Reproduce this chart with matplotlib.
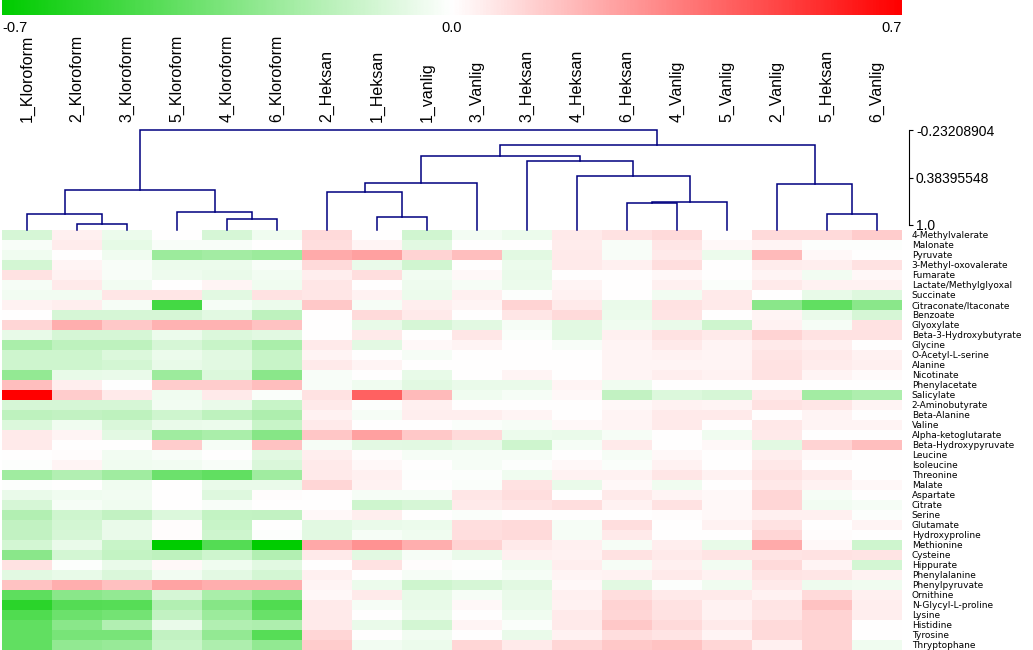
import matplotlib
matplotlib.use("Agg")
import matplotlib.pyplot as plt
import numpy as np
from matplotlib.colors import LinearSegmentedColormap
from matplotlib.transforms import blended_transform_factory

plt.rcParams['font.family'] = ['Liberation Sans', 'DejaVu Sans']

samples = ["1_Kloroform", "2_Kloroform", "3_Kloroform", "5_Kloroform", "4_Kloroform", "6_Kloroform",
           "2_Heksan", "1_Heksan", "1_vanlig", "3_Vanlig", "3_Heksan", "4_Heksan", "6_Heksan",
           "4_Vanlig", "5_Vanlig", "2_Vanlig", "5_Heksan", "6_Vanlig"]

metabolites = ["4-Methylvalerate", "Malonate", "Pyruvate", "3-Methyl-oxovalerate", "Fumarate",
               "Lactate/Methylglyoxal", "Succinate", "Citraconate/Itaconate", "Benzoate", "Glyoxylate",
               "Beta-3-Hydroxybutyrate", "Glycine", "O-Acetyl-L-serine", "Alanine", "Nicotinate",
               "Phenylacetate", "Salicylate", "2-Aminobutyrate", "Beta-Alanine", "Valine",
               "Alpha-ketoglutarate", "Beta-Hydroxypyruvate", "Leucine", "Isoleucine", "Threonine",
               "Malate", "Aspartate", "Citrate", "Serine", "Glutamate", "Hydroxyproline", "Methionine",
               "Cysteine", "Hippurate", "Phenylalanine", "Phenylpyruvate", "Ornithine",
               "N-Glycyl-L-proline", "Lysine", "Histidine", "Tyrosine", "Thryptophane"]

values = [
    [-0.11, 0.04, -0.05, 0.0, -0.11, -0.04, 0.10, 0.0, -0.13, -0.03, -0.05, 0.06, 0.08, 0.10, 0.0, 0.10, 0.10, 0.14],
    [-0.02, 0.05, -0.07, -0.02, -0.02, 0.0, 0.09, 0.03, -0.08, 0.0, 0.0, 0.05, -0.02, 0.07, 0.02, 0.03, -0.01, -0.01],
    [-0.04, 0.0, -0.04, -0.27, -0.25, -0.27, 0.23, 0.26, 0.12, 0.18, -0.08, 0.06, -0.02, 0.06, -0.05, 0.19, 0.02, 0.0],
    [-0.12, 0.03, -0.02, -0.05, -0.05, -0.02, 0.10, -0.06, -0.13, 0.0, -0.05, 0.06, 0.04, 0.09, 0.0, 0.05, 0.045, 0.08],
    [0.08, 0.035, -0.02, -0.045, -0.06, -0.035, 0.045, 0.09, -0.035, 0.02, -0.06, 0.0, 0.0, 0.02, 0.0, 0.03, -0.035, 0.02],
    [-0.025, 0.055, -0.035, 0.0, 0.03, -0.04, 0.07, 0.0, -0.045, -0.025, -0.05, 0.03, 0.0, 0.04, -0.015, 0.06, 0.035, 0.035],
    [-0.035, -0.035, 0.07, 0.07, -0.08, 0.08, 0.07, 0.035, -0.05, 0.04, -0.01, 0.035, 0.0, -0.035, 0.055, 0.0, -0.065, -0.09],
    [0.035, 0.045, -0.025, -0.51, -0.025, -0.05, 0.15, -0.025, 0.045, 0.03, 0.12, 0.06, -0.06, 0.08, 0.06, -0.32, -0.43, -0.32],
    [0.0, -0.11, -0.11, -0.11, -0.08, -0.18, 0.0, 0.10, 0.055, 0.0, 0.07, 0.10, -0.05, 0.075, 0.0, 0.03, -0.06, -0.11],
    [0.11, 0.22, 0.15, 0.21, 0.21, 0.165, 0.0, -0.065, -0.11, -0.08, -0.025, -0.08, -0.04, -0.06, -0.135, 0.035, -0.025, 0.08],
    [-0.065, -0.11, -0.11, -0.05, -0.095, -0.08, 0.0, 0.06, 0.0, 0.07, -0.015, -0.08, 0.04, 0.08, 0.055, 0.12, 0.08, 0.08],
    [-0.23, -0.18, -0.18, -0.11, -0.15, -0.23, 0.055, -0.075, 0.02, 0.03, 0.0, -0.02, 0.03, 0.055, 0.03, 0.055, 0.04, 0.0],
    [-0.135, -0.135, -0.095, -0.05, -0.08, -0.15, 0.03, 0.0, -0.025, 0.0, 0.0, 0.0, 0.03, 0.035, 0.03, 0.075, 0.055, 0.035],
    [-0.135, -0.135, -0.12, -0.065, -0.08, -0.15, 0.055, 0.03, 0.0, 0.0, 0.0, 0.0, 0.03, 0.03, 0.03, 0.08, 0.05, 0.04],
    [-0.29, -0.065, -0.055, -0.27, -0.095, -0.32, -0.02, 0.0, -0.065, 0.0, 0.03, 0.0, 0.03, 0.045, 0.035, 0.08, 0.03, 0.015],
    [0.18, 0.045, -0.005, 0.14, 0.14, 0.18, -0.02, -0.04, -0.08, -0.06, -0.06, 0.03, -0.04, 0.0, 0.0, 0.0, 0.0, 0.0],
    [0.70, 0.14, 0.06, -0.04, 0.055, -0.015, 0.08, 0.43, 0.19, -0.04, -0.025, 0.02, -0.165, -0.095, -0.11, 0.055, -0.25, -0.22],
    [-0.11, -0.11, -0.11, -0.035, -0.06, -0.15, 0.055, -0.01, 0.04, 0.0, 0.0, 0.0, 0.02, 0.035, 0.03, 0.08, 0.07, 0.03],
    [-0.18, -0.165, -0.18, -0.135, -0.18, -0.22, 0.035, -0.025, 0.045, 0.045, 0.03, 0.0, 0.03, 0.055, 0.055, 0.0, 0.03, 0.0],
    [-0.095, -0.04, -0.10, -0.06, -0.05, -0.15, 0.06, 0.0, 0.0, -0.015, -0.025, 0.02, 0.03, 0.055, 0.0, 0.065, 0.03, 0.03],
    [0.055, 0.03, -0.075, -0.26, -0.23, -0.33, 0.155, 0.26, 0.15, 0.10, -0.05, -0.06, -0.025, 0.0, -0.04, 0.055, 0.0, 0.0],
    [0.055, 0.0, 0.0, 0.14, -0.025, 0.165, -0.025, -0.075, -0.08, -0.055, -0.135, -0.025, 0.055, 0.0, 0.02, -0.08, 0.12, 0.18],
    [0.0, 0.01, -0.035, -0.02, 0.0, -0.08, 0.045, 0.01, -0.025, -0.025, -0.025, 0.0, -0.025, 0.02, 0.0, 0.045, 0.02, 0.0],
    [-0.01, 0.03, -0.04, -0.035, -0.02, -0.10, 0.06, 0.02, 0.0, -0.025, -0.01, 0.02, -0.015, 0.035, 0.0, 0.065, 0.0, 0.0],
    [-0.26, -0.21, -0.26, -0.40, -0.43, -0.26, 0.055, 0.04, -0.01, -0.01, -0.04, 0.035, 0.035, 0.07, 0.035, 0.08, 0.055, 0.0],
    [-0.01, 0.0, -0.04, 0.0, -0.06, -0.06, 0.11, 0.035, 0.0, -0.015, 0.08, -0.055, 0.02, -0.04, 0.0, 0.065, 0.035, 0.02],
    [-0.06, -0.04, -0.035, 0.0, -0.09, 0.01, 0.0, -0.025, -0.025, 0.07, 0.09, 0.0, 0.055, 0.03, 0.02, 0.11, -0.025, 0.0],
    [-0.11, -0.025, -0.04, 0.0, -0.02, 0.0, 0.0, -0.135, -0.11, 0.055, 0.075, 0.09, 0.035, 0.08, 0.02, 0.11, -0.035, -0.025],
    [-0.21, -0.135, -0.165, -0.095, -0.16, -0.165, 0.02, 0.045, 0.0, -0.015, 0.0, 0.0, 0.0, 0.01, 0.02, 0.04, 0.04, -0.01],
    [-0.165, -0.12, -0.055, 0.01, -0.15, 0.0, -0.08, -0.055, -0.05, 0.09, 0.10, -0.025, 0.09, 0.0, 0.035, 0.08, 0.0, 0.03],
    [-0.165, -0.11, -0.055, 0.01, -0.135, -0.01, -0.08, -0.025, -0.04, 0.09, 0.10, -0.025, 0.06, 0.0, 0.0, 0.11, 0.01, 0.0],
    [-0.12, -0.055, -0.15, -0.70, -0.47, -0.70, 0.24, 0.30, 0.22, 0.12, 0.055, 0.04, -0.025, 0.045, -0.065, 0.23, 0.02, -0.135],
    [-0.32, -0.12, -0.16, -0.18, -0.135, -0.21, 0.055, -0.08, -0.025, -0.055, 0.04, 0.035, 0.08, 0.06, 0.075, 0.075, 0.08, 0.075],
    [0.08, -0.01, -0.06, 0.02, -0.04, -0.08, 0.0, 0.08, 0.01, 0.0, -0.04, 0.045, -0.025, 0.04, -0.035, 0.10, 0.03, -0.12],
    [-0.08, -0.065, -0.10, -0.035, -0.075, -0.12, 0.04, 0.0, -0.025, -0.01, -0.025, 0.03, 0.035, 0.055, 0.035, 0.075, 0.07, 0.035],
    [0.165, 0.22, 0.17, 0.25, 0.22, 0.22, 0.03, -0.05, -0.135, -0.11, -0.08, 0.02, -0.08, -0.01, -0.04, 0.06, -0.045, -0.04],
    [-0.44, -0.32, -0.29, -0.11, -0.23, -0.30, 0.02, 0.06, -0.065, -0.025, -0.055, 0.04, 0.09, 0.06, 0.06, 0.035, 0.10, 0.04],
    [-0.58, -0.47, -0.46, -0.21, -0.33, -0.48, 0.055, -0.025, -0.065, 0.02, -0.055, 0.035, 0.12, 0.08, 0.035, 0.075, 0.165, 0.045],
    [-0.48, -0.40, -0.38, -0.165, -0.27, -0.41, 0.055, 0.0, -0.05, 0.0, -0.04, 0.055, 0.11, 0.08, 0.035, 0.07, 0.12, 0.045],
    [-0.43, -0.32, -0.21, -0.06, -0.21, -0.22, 0.055, -0.06, -0.12, 0.03, -0.015, 0.055, 0.15, 0.10, 0.055, 0.10, 0.12, 0.0],
    [-0.43, -0.37, -0.37, -0.165, -0.29, -0.46, 0.11, 0.0, -0.035, 0.0, -0.06, 0.035, 0.09, 0.075, 0.03, 0.10, 0.12, 0.0],
    [-0.43, -0.30, -0.28, -0.15, -0.22, -0.30, 0.14, -0.035, -0.05, 0.11, 0.055, 0.11, 0.15, 0.165, 0.11, 0.04, 0.12, -0.04],
]

# dendrogram merges (node ids >= 18 refer to earlier merges) and their heights
merge_pairs = [(1, 2), (4, 5), (0, 18), (3, 19), (20, 21), (7, 8), (6, 23), (24, 9),
               (12, 13), (26, 14), (11, 27), (10, 28), (25, 29), (16, 17), (15, 31),
               (30, 32), (22, 33)]
merge_heights = [0.99, 0.926, 0.861, 0.835, 0.548, 0.896, 0.575, 0.454,
                 0.718, 0.705, 0.363, 0.167, 0.106, 0.861, 0.471, -0.041, -0.23208904]

scale_ticks = [-0.23208904, 0.38395548, 1.0]
scale_labels = ["-0.23208904", "0.38395548", "1.0"]
cbar_ticks = [-0.7, 0.0, 0.7]
cbar_labels = ["-0.7", "0.0", "0.7"]

W, H = 1033, 650
fig = plt.figure(figsize=(W / 100, H / 100), dpi=100)
fig.patch.set_facecolor("white")


def px_axes(x0, y0, x1, y1):
    return fig.add_axes([x0 / W, 1 - y1 / H, (x1 - x0) / W, (y1 - y0) / H])


cmap = LinearSegmentedColormap.from_list("gwr", ["#00CC00", "#FFFFFF", "#FF0000"])
vmin, vmax = -0.7, 0.7
n_cols = len(samples)
n_rows = len(metabolites)

# heatmap
ax = px_axes(2, 230, 902, 650)
ax.imshow(np.array(values), cmap=cmap, vmin=vmin, vmax=vmax, aspect="auto",
          interpolation="nearest", extent=(0, n_cols, n_rows, 0))
ax.set_xlim(0, n_cols)
ax.set_ylim(n_rows, 0)
for s in ax.spines.values():
    s.set_visible(False)
ax.set_xticks([])
ax.yaxis.tick_right()
ax.set_yticks(np.arange(n_rows) + 0.5)
ax.set_yticklabels(metabolites, fontsize=6.5, family="DejaVu Sans")
ax.tick_params(axis="y", length=0, pad=7)

# column labels
tr = blended_transform_factory(ax.transData, fig.transFigure)
for i, name in enumerate(samples):
    fig.text(i + 0.5, 1 - 122 / H, name, transform=tr, rotation=90,
             ha="center", va="bottom", fontsize=11.5)

# colorbar
cax = px_axes(2, 0, 902, 15)
grad = np.linspace(vmin, vmax, 600)[None, :]
cax.imshow(grad, cmap=cmap, vmin=vmin, vmax=vmax, aspect="auto", extent=(vmin, vmax, 0, 1))
cax.set_axis_off()
for v, lab, ha in zip(cbar_ticks, cbar_labels, ["left", "center", "right"]):
    cax.annotate(lab, xy=(v, 0), xycoords=("data", "axes fraction"), xytext=(0, -13),
                 textcoords="offset pixels", ha=ha, va="center", fontsize=10.5)

# dendrogram
ylim_d = (1.0651, -0.262)
axd = px_axes(2, 128, 902, 230)
axd.set_xlim(0, n_cols)
axd.set_ylim(*ylim_d)
axd.set_axis_off()
node_x = list(np.arange(n_cols) + 0.5)
node_h = [ylim_d[0]] * n_cols
for (a, b), h in zip(merge_pairs, merge_heights):
    xa, xb = node_x[a], node_x[b]
    axd.plot([xa, xa, xb, xb], [node_h[a], h, h, node_h[b]], color="#000080",
             lw=1.1, solid_joinstyle="miter", clip_on=False)
    node_x.append((xa + xb) / 2)
    node_h.append(h)

# scale of the dendrogram
sax = px_axes(908, 128, 909, 230)
sax.set_ylim(*ylim_d)
sax.set_xticks([])
for k in ["left", "top", "bottom"]:
    sax.spines[k].set_visible(False)
sax.spines["right"].set_bounds(scale_ticks[0], scale_ticks[-1])
sax.spines["right"].set_linewidth(0.8)
sax.yaxis.tick_right()
sax.set_yticks(scale_ticks)
sax.set_yticklabels(scale_labels, fontsize=10)
sax.tick_params(axis="y", direction="out", length=3, width=0.8, pad=2)
sax.patch.set_visible(False)

fig.savefig("out.png", dpi=100, facecolor="white")
